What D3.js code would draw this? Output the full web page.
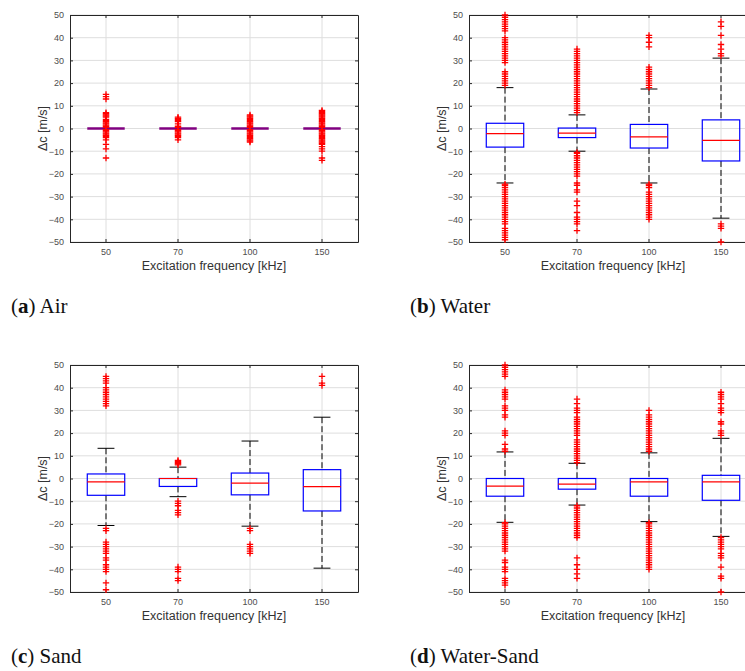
<!DOCTYPE html>
<html>
<head>
<meta charset="utf-8">
<script src="https://cdn.jsdelivr.net/npm/d3@7"></script>
<style>
  body { margin: 0; background: #fff; }
  svg { display: block; }
  .tick text { font-family: "Liberation Sans", Arial, sans-serif; font-size: 9px; fill: #4d4d4d; }
  .axisname { font-family: "Liberation Sans", Arial, sans-serif; font-size: 12.5px; fill: #333; }
  .caption { font-family: "Liberation Serif", "DejaVu Serif", serif; font-size: 21px; fill: #111; }
</style>
</head>
<body>
<div id="chart"></div>
<script>
const WIDTH = 745
const HEIGHT = 671

// categorias y ticks
const frequencies = ["50", "70", "100", "150"]
const yTicks = [-50, -40, -30, -20, -10, 0, 10, 20, 30, 40, 50]

// (a) Air
const airQ1 = [0, 0, 0, 0]
const airMedian = [0, 0, 0, 0]
const airQ3 = [0, 0, 0, 0]
const airLow = [0, 0, 0, 0]
const airHigh = [0, 0, 0, 0]
const airOutliers = [
  [15, 14, 13, 7, 6.5, 6, 5.5, 5, 4, 3.5, 3, 2.5, 2, 1.5, 1, 0.5, -0.5, -1, -1.5, -2, -2.5, -3, -3.5, -4, -5, -7, -9, -13],
  [5, 4.5, 4, 3.5, 3, 2, 1, 0.5, -0.5, -1, -1.5, -2, -2.5, -3, -3.5, -4, -5],
  [6, 5.5, 5, 4.5, 4, 3.5, 3, 2.5, 2, 1.5, 1, 0.5, -0.5, -1, -1.5, -2, -2.5, -3, -3.5, -4, -4.5, -5, -5.5, -6],
  [8, 7.5, 7, 6.5, 6, 5.5, 5, 4.5, 4, 3.5, 3, 2.5, 2, 1.5, 1, 0.5, -0.5, -1, -1.5, -2, -2.5, -3, -3.5, -4, -4.5, -5, -5.5, -6, -6.5, -7, -8, -9, -10, -13, -14]
]

// (b) Water
const waterQ1 = [-8.2, -4, -8.6, -14.3]
const waterMedian = [-2.3, -2, -3.7, -5.2]
const waterQ3 = [2.3, 0.2, 1.8, 3.8]
const waterLow = [-24, -10, -24, -39.5]
const waterHigh = [18, 6, 17.4, 31]
const waterOutliers = [
  [19, 20, 21, 22, 23, 24, 25, 29, 30, 31, 32, 33, 34, 35, 36, 37, 38, 39, 40, 43, 44, 45, 46, 47, 48, 49, 50,
   -24.5, -25, -26, -27, -28, -29, -30, -31, -32, -33, -34, -35, -36, -37, -38, -39, -40, -41, -42, -44, -45, -46, -47, -48, -49],
  [7, 8, 9, 10, 11, 12, 13, 14, 15, 16, 17, 18, 19, 20, 21, 22, 23, 24, 25, 26, 27, 28, 29, 30, 31, 32, 33, 34, 35,
   -10.5, -11, -12, -13, -14, -15, -16, -17, -18, -19, -20, -21, -24, -25, -27, -28, -32, -34, -37, -39, -40, -41, -42, -45],
  [18, 19, 20, 21, 22, 23, 24, 25, 26, 27, 36, 38, 40, 41,
   -24.5, -25, -26, -28, -29, -30, -31, -32, -33, -34, -35, -36, -37, -38, -39, -40],
  [32, 33, 35, 37, 41, 45, 47, -42, -43, -44, -50]
]

// (c) Sand
const sandQ1 = [-7.4, -3.5, -7.2, -14.3]
const sandMedian = [-1.5, 0, -2, -3.6]
const sandQ3 = [2, 0, 2.4, 3.9]
const sandLow = [-20.7, -8, -21, -39.5]
const sandHigh = [13.3, 5, 16.5, 27]
const sandOutliers = [
  [32, 33, 34, 35, 36, 37, 38, 39, 40, 42, 43, 44, 45,
   -22, -23, -28, -29, -30, -31, -32, -33, -35, -36, -38, -39, -40, -41, -46, -49],
  [6, 6.5, 7, 7.5, 8, -10, -11, -12, -14, -15, -16, -39, -40, -41, -44, -45],
  [-22, -23, -29, -30, -31, -32, -33],
  [41, 42, 45]
]

// (d) Water-Sand
const waterSandQ1 = [-7.8, -4.7, -7.8, -9.6]
const waterSandMedian = [-3.4, -2.5, -1.5, -1.5]
const waterSandQ3 = [0, 0, 0, 1.4]
const waterSandLow = [-19.3, -11.7, -19, -25.5]
const waterSandHigh = [11.7, 6.7, 11.3, 17.7]
const waterSandOutliers = [
  [12, 13, 15, 19, 20, 21, 27, 28, 30, 31, 32, 35, 36, 37, 38, 39, 45, 46, 47, 48, 49, 50,
   -19.5, -20, -21, -22, -23, -24, -25, -26, -27, -28, -29, -30, -31, -32, -36, -37, -39, -40, -41, -44, -45, -46, -47],
  [7, 8, 9, 10, 11, 12, 13, 14, 15, 16, 17, 19, 20, 21, 22, 23, 24, 25, 26, 27, 29, 30, 31, 33, 35,
   -12, -13, -14, -15, -16, -17, -18, -19, -20, -21, -22, -23, -24, -25, -26, -35, -38, -40, -42, -44],
  [12, 13, 14, 15, 16, 17, 18, 19, 20, 21, 22, 23, 24, 25, 26, 27, 28, 30,
   -19.5, -20, -21, -22, -23, -24, -25, -26, -27, -28, -29, -30, -31, -32, -33, -34, -35, -36, -37, -38, -39, -40],
  [19, 20, 21, 24, 25, 29, 30, 31, 33, 35, 36, 37, 38,
   -26, -27, -28, -29, -30, -31, -33, -34, -35, -39, -43, -44, -50]
]

const panels = [
  {letter: "a", name: "Air", left: 70, top: 15, q1: airQ1, med: airMedian, q3: airQ3, lo: airLow, hi: airHigh, out: airOutliers},
  {letter: "b", name: "Water", left: 469, top: 15, q1: waterQ1, med: waterMedian, q3: waterQ3, lo: waterLow, hi: waterHigh, out: waterOutliers},
  {letter: "c", name: "Sand", left: 70, top: 365, q1: sandQ1, med: sandMedian, q3: sandQ3, lo: sandLow, hi: sandHigh, out: sandOutliers},
  {letter: "d", name: "Water-Sand", left: 469, top: 365, q1: waterSandQ1, med: waterSandMedian, q3: waterSandQ3, lo: waterSandLow, hi: waterSandHigh, out: waterSandOutliers}
]

const widthPlot = 288
const heightPlot = 227

const svg = d3.select('#chart')
  .append('svg')
    .attr('width', WIDTH)
    .attr('height', HEIGHT)

const xscale = d3.scaleBand().domain(frequencies).range([0, widthPlot]).padding(0)
const yscale = d3.scaleLinear().domain([-50, 50]).range([heightPlot, 0])
const boxW = xscale.bandwidth() * 0.52
const capW = boxW * 0.45

panels.forEach(p => {
  const g = svg.append('g').attr('transform', `translate(${p.left},${p.top})`)
  const cx = d => xscale(d) + xscale.bandwidth() / 2

  // rejilla
  g.append('g').selectAll('line').data(yTicks).join('line')
    .attr('x1', 0).attr('x2', widthPlot)
    .attr('y1', d => yscale(d)).attr('y2', d => yscale(d))
    .attr('stroke', '#dedede').attr('stroke-width', 1)
  g.append('g').selectAll('line').data(frequencies).join('line')
    .attr('x1', cx).attr('x2', cx)
    .attr('y1', 0).attr('y2', heightPlot)
    .attr('stroke', '#dedede').attr('stroke-width', 1)

  // ejes
  const yAxis = g.append('g').call(d3.axisLeft(yscale).tickValues(yTicks).tickSizeInner(-3).tickSizeOuter(0).tickPadding(6))
  const yAxisR = g.append('g').attr('transform', `translate(${widthPlot},0)`)
    .call(d3.axisRight(yscale).tickValues(yTicks).tickSizeInner(-3).tickSizeOuter(0).tickFormat(''))
  const xAxis = g.append('g').attr('transform', `translate(0,${heightPlot})`)
    .call(d3.axisBottom(xscale).tickSizeInner(-3).tickSizeOuter(0).tickPadding(7))
  const xAxisT = g.append('g')
    .call(d3.axisTop(xscale).tickSizeInner(-3).tickSizeOuter(0).tickFormat(''))
  ;[yAxis, yAxisR, xAxis, xAxisT].forEach(a => {
    a.select('.domain').attr('stroke', '#262626').attr('stroke-width', 1)
    a.selectAll('.tick line').attr('stroke', '#262626')
  })

  const data = frequencies.map((f, i) => ({f, q1: p.q1[i], med: p.med[i], q3: p.q3[i], lo: p.lo[i], hi: p.hi[i], out: p.out[i]}))

  // bigotes
  const whisk = g.append('g').selectAll('g').data(data).join('g')
  whisk.append('line')
    .attr('x1', d => cx(d.f)).attr('x2', d => cx(d.f))
    .attr('y1', d => yscale(d.hi)).attr('y2', d => yscale(d.q3))
    .attr('stroke', '#000').attr('stroke-dasharray', '6,3')
  whisk.append('line')
    .attr('x1', d => cx(d.f)).attr('x2', d => cx(d.f))
    .attr('y1', d => yscale(d.q1)).attr('y2', d => yscale(d.lo))
    .attr('stroke', '#000').attr('stroke-dasharray', '6,3')
  whisk.append('line')
    .attr('x1', d => cx(d.f) - capW / 2).attr('x2', d => cx(d.f) + capW / 2)
    .attr('y1', d => yscale(d.hi)).attr('y2', d => yscale(d.hi))
    .attr('stroke', '#000')
  whisk.append('line')
    .attr('x1', d => cx(d.f) - capW / 2).attr('x2', d => cx(d.f) + capW / 2)
    .attr('y1', d => yscale(d.lo)).attr('y2', d => yscale(d.lo))
    .attr('stroke', '#000')

  // cajas
  whisk.append('rect')
    .attr('x', d => cx(d.f) - boxW / 2).attr('width', boxW)
    .attr('y', d => yscale(d.q3)).attr('height', d => yscale(d.q1) - yscale(d.q3))
    .attr('fill', 'none').attr('stroke', '#0000ff').attr('stroke-width', 1.2)
  whisk.append('line')
    .attr('x1', d => cx(d.f) - boxW / 2).attr('x2', d => cx(d.f) + boxW / 2)
    .attr('y1', d => yscale(d.med)).attr('y2', d => yscale(d.med))
    .attr('stroke', d => d.q1 === d.q3 ? '#800080' : '#ff0000')
    .attr('stroke-width', d => d.q1 === d.q3 ? 2.5 : 1.2)

  // valores atipicos como '+'
  const outs = data.flatMap(d => d.out.map(v => ({f: d.f, v})))
  g.append('g').selectAll('path').data(outs).join('path')
    .attr('d', d => {
      const x = cx(d.f), y = yscale(d.v), s = 3.2
      return `M${x - s},${y}H${x + s}M${x},${y - s}V${y + s}`
    })
    .attr('stroke', '#ff0000').attr('stroke-width', 1.3).attr('fill', 'none')

  // nombres de ejes
  g.append('text')
    .attr('class', 'axisname')
    .attr('x', widthPlot / 2).attr('y', heightPlot + 28)
    .attr('text-anchor', 'middle')
    .text('Excitation frequency [kHz]')
  g.append('text')
    .attr('class', 'axisname')
    .attr('transform', `translate(-23,${heightPlot / 2}) rotate(-90)`)
    .attr('text-anchor', 'middle')
    .text('Δc [m/s]')

  // subtitulo
  const cap = svg.append('text')
    .attr('class', 'caption')
    .attr('x', p.left < 200 ? 11 : 410)
    .attr('y', p.top + 298)
  cap.append('tspan').text('(')
  cap.append('tspan').attr('font-weight', 'bold').text(p.letter)
  cap.append('tspan').text(') ' + p.name)
})
</script>
</body>
</html>
